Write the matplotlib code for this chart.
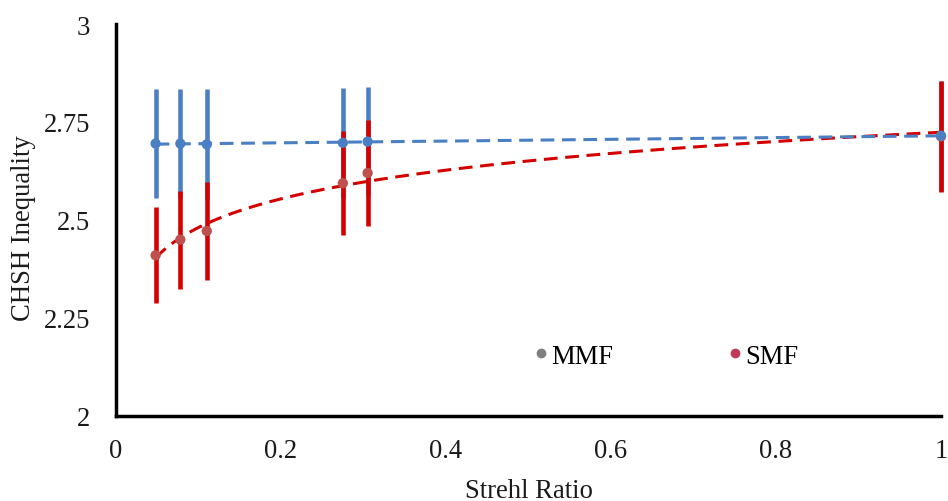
import numpy as np
import matplotlib
matplotlib.use("Agg")
import matplotlib.pyplot as plt
from matplotlib.lines import Line2D

strehl = [0.048, 0.078, 0.11, 0.275, 0.305, 1.0]
mmf = [2.695, 2.695, 2.693, 2.697, 2.700, 2.715]
mmf_err = [0.14, 0.14, 0.14, 0.14, 0.14, 0.14]
smf = [2.410, 2.450, 2.472, 2.594, 2.620, 2.713]
smf_err = [0.123, 0.125, 0.125, 0.132, 0.135, 0.142]
yticks = [2, 2.25, 2.5, 2.75, 3]
ytick_labels = ["2", "2.25", "2.5", "2.75", "3"]
xticks = [0, 0.2, 0.4, 0.6, 0.8, 1]
xtick_labels = ["0", "0.2", "0.4", "0.6", "0.8", "1"]

plt.rcParams['font.family'] = ['Liberation Serif', 'DejaVu Serif']
fs = 19.2

fig = plt.figure(figsize=(9.48, 5.02), dpi=100)
ax = fig.add_axes([116/948, 1-417/502, 825/948, 392/502])

blue_bar = '#4a7fc4'
blue_mk = '#4a7fc4'
red_bar = '#d40000'
red_mk = '#c0504d'
txt = '#1a1a1a'

x = np.array(strehl)
# error bars
ax.errorbar(x, mmf, yerr=mmf_err, fmt='none', ecolor=blue_bar, elinewidth=3.3, capsize=0, zorder=2, clip_on=False)
ax.errorbar(x, smf, yerr=smf_err, fmt='none', ecolor=red_bar, elinewidth=3.3, capsize=0, zorder=3, clip_on=False)

# trend lines
xs = np.linspace(x.min(), x.max(), 300)
pm = np.polyfit(x, mmf, 1)
ps = np.polyfit(np.log(x), smf, 1)
ax.plot(xs, np.polyval(ps, np.log(xs)), color=red_bar, lw=2.2, ls=(0, (4.5, 2.5)), zorder=4, clip_on=False)
ax.plot(xs, np.polyval(pm, xs), color=blue_bar, lw=2.2, ls=(0, (4.5, 2.5)), zorder=4, clip_on=False)

ax.scatter(x, smf, s=55, color=red_mk, zorder=5, clip_on=False, edgecolors='none')
ax.scatter(x, mmf, s=55, color=blue_mk, zorder=5, clip_on=False, edgecolors='none')

ax.set_xlim(0, 1)
ax.set_ylim(2, 3)
ax.set_xticks(xticks)
ax.set_xticklabels(xtick_labels)
ax.set_yticks(yticks)
ax.set_yticklabels(ytick_labels)
ax.tick_params(axis='both', length=0, labelsize=fs, colors=txt)
ax.tick_params(axis='y', pad=18.5)
ax.tick_params(axis='x', pad=16)
for s in ['top', 'right']:
    ax.spines[s].set_visible(False)
for s in ['left', 'bottom']:
    ax.spines[s].set_linewidth(2.5)
    ax.spines[s].set_color('black')

ax.set_xlabel('Strehl Ratio', fontsize=fs, color=txt)
ax.set_ylabel('CHSH Inequality', fontsize=fs, color=txt)
ax.xaxis.set_label_coords(0.5006, -0.189)
ax.yaxis.set_label_coords(-0.112, 0.482)
ax.xaxis.label.set_va('center')
ax.yaxis.label.set_va('center')

handles = [Line2D([], [], ls='none', marker='o', ms=6, color='#7f7f7f'),
           Line2D([], [], ls='none', marker='o', ms=6, color='#c0395a')]
ax.legend(handles, ['MMF', 'SMF'], loc='center', bbox_to_anchor=(0.667, 0.153), ncol=2,
          frameon=False, fontsize=fs, handlelength=0.5, handletextpad=0.15, columnspacing=4.3)

fig.savefig('out.png', dpi=100)
